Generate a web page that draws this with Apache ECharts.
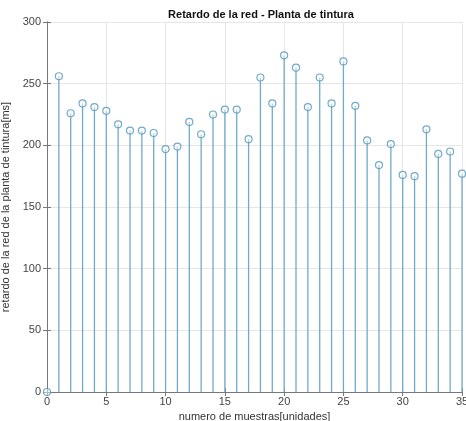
<!DOCTYPE html>
<html>
<head>
<meta charset="utf-8">
<script src="https://cdn.jsdelivr.net/npm/echarts@6/dist/echarts.min.js"></script>
<style>
  html, body { margin: 0; padding: 0; background: #fff; }
  #chart { width: 466px; height: 421px; }
</style>
</head>
<body>
<div id="chart"></div>
<script>
// muestras (eje x) y retardo en ms
const muestras = [0, 1, 2, 3, 4, 5, 6, 7, 8, 9, 10, 11, 12, 13, 14, 15, 16, 17,
  18, 19, 20, 21, 22, 23, 24, 25, 26, 27, 28, 29, 30, 31, 32, 33, 34, 35];
const retardo = [0, 256, 226, 234, 231, 228, 217, 212, 212, 210, 197, 199, 219, 209,
  225, 229, 229, 205, 255, 234, 273, 263, 231, 255, 234, 268, 232, 204, 184, 201,
  176, 175, 213, 193, 195, 177];
const titulo = "Retardo de la red - Planta de tintura";
const nombreX = "numero de muestras[unidades]";
const nombreY = "retardo de la red de la planta de tintura[ms]";

const puntos = muestras.map((m, i) => [m, retardo[i]]);

const chart = echarts.init(document.getElementById("chart"));

const ejeBase = {
  axisLine: { show: true, lineStyle: { color: "#777", width: 1 } },
  axisTick: { show: true, inside: true, length: 4, lineStyle: { color: "#777" } },
  axisLabel: { color: "#444", fontSize: 11, fontFamily: "Liberation Sans, Arial" },
};

chart.setOption({
  animation: false,
  title: {
    text: titulo,
    left: 256,
    textAlign: "center",
    top: 4,
    textStyle: { fontSize: 11, fontWeight: "bold", color: "#111", fontFamily: "Liberation Sans, Arial" },
  },
  grid: { left: 47, right: 4, top: 22, bottom: 29, outerBoundsMode: "none", containLabel: false },
  xAxis: [
    Object.assign({}, ejeBase, {
      type: "value",
      min: 0,
      max: 35,
      interval: 5,
      name: nombreX,
      nameLocation: "middle",
      nameGap: 14,
      nameTextStyle: { color: "#333", fontSize: 11, fontFamily: "Liberation Sans, Arial" },
      axisLabel: Object.assign({}, ejeBase.axisLabel, { margin: 4 }),
      splitLine: { show: true, lineStyle: { color: "#e6e6e6" } },
    }),
    Object.assign({}, ejeBase, {
      type: "value",
      position: "top",
      min: 0,
      max: 35,
      interval: 5,
      axisLabel: { show: false },
      splitLine: { show: false },
    }),
  ],
  yAxis: [
    Object.assign({}, ejeBase, {
      type: "value",
      min: 0,
      max: 300,
      interval: 50,
      name: nombreY,
      nameLocation: "middle",
      nameGap: 32,
      nameTextStyle: { color: "#333", fontSize: 11, fontFamily: "Liberation Sans, Arial" },
      axisLabel: Object.assign({}, ejeBase.axisLabel, { margin: 6 }),
      splitLine: { show: true, lineStyle: { color: "#e6e6e6" } },
    }),
    Object.assign({}, ejeBase, {
      type: "value",
      position: "right",
      min: 0,
      max: 300,
      interval: 50,
      axisLabel: { show: false },
      splitLine: { show: false },
    }),
  ],
  series: [
    {
      type: "custom",
      name: "tallos",
      data: puntos,
      renderItem: function (params, api) {
        const base = api.coord([api.value(0), 0]);
        const tope = api.coord([api.value(0), api.value(1)]);
        return {
          type: "line",
          shape: { x1: base[0], y1: base[1], x2: tope[0], y2: tope[1] },
          style: { stroke: "#6fabc8", lineWidth: 1.3 },
        };
      },
      z: 2,
    },
    {
      type: "scatter",
      name: "marcas",
      data: puntos,
      symbol: "circle",
      symbolSize: 7,
      itemStyle: { color: "rgba(255,255,255,0.6)", borderColor: "#4f95bb", borderWidth: 1.2 },
      z: 3,
    },
  ],
});
</script>
</body>
</html>
